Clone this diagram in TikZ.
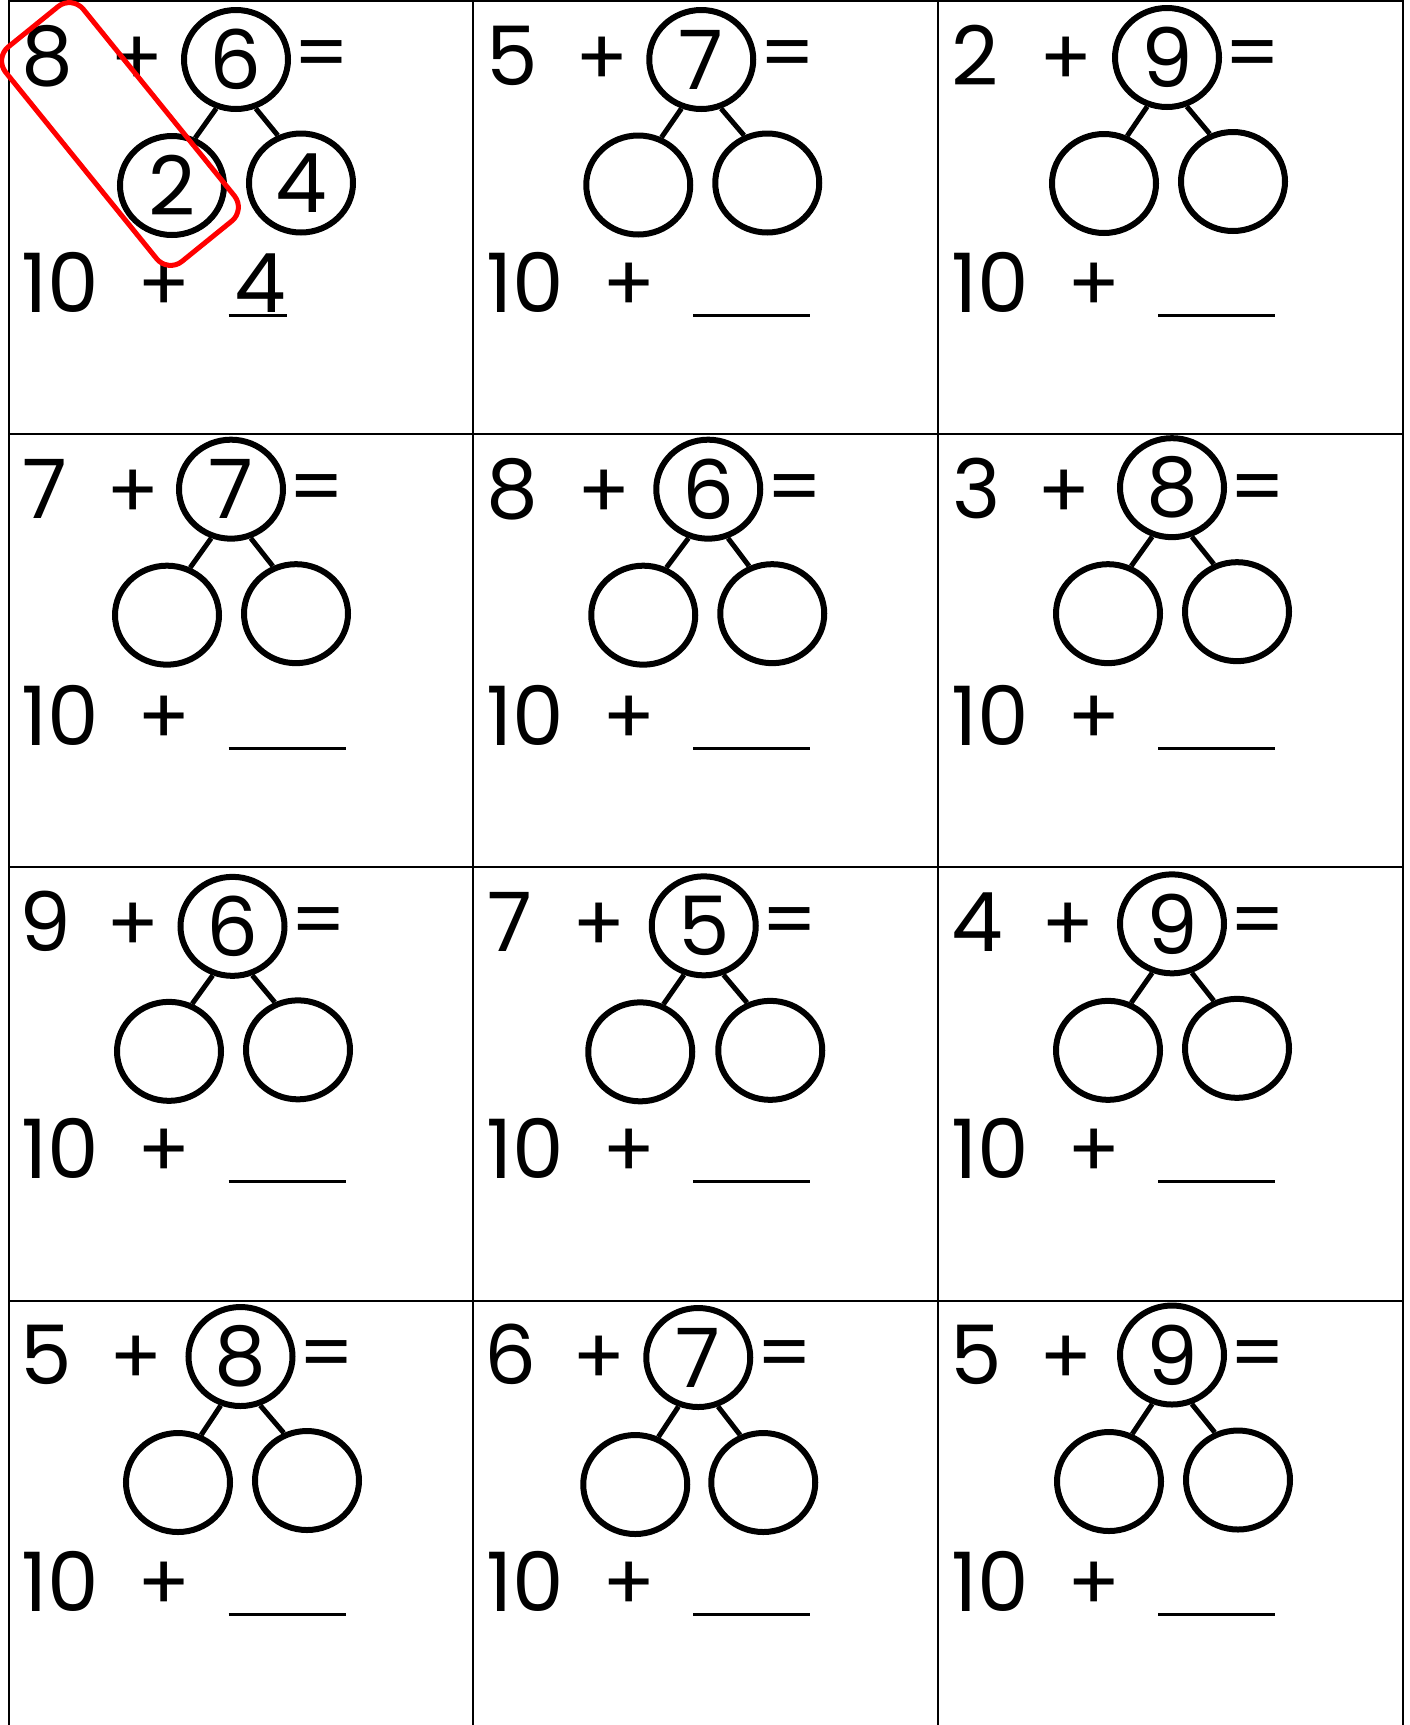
\documentclass[tikz,border=0pt]{standalone}
\usepackage{fontspec}
\setmainfont{Poppins}
\usetikzlibrary{shapes.geometric}
\begin{document}
\begin{tikzpicture}[x=1pt,y=-1pt,
  gridline/.style={line width=2pt},
  bub/.style={draw, ellipse, line width=6pt, minimum width=104pt, minimum height=99pt, inner sep=0pt, font=\fontsize{82}{90}\selectfont},
  conn/.style={line width=5pt},
  num/.style={font=\fontsize{82}{90}\selectfont, inner sep=0pt, anchor=base},
  op/.style={font=\fontsize{78}{86}\selectfont, inner sep=0pt, anchor=center},
  blankline/.style={line width=3pt},
  hilite/.style={draw=red, line width=5pt, rounded corners=18pt, minimum width=276pt, minimum height=100pt, inner sep=0pt, rotate=-51}
]
\useasboundingbox (0,0) rectangle (1410,1725);
\fill[white] (0,0) rectangle (1410,1725);
% grid
\foreach \yy in {1,433.5,867,1300.5}{\draw[gridline] (8.5,\yy) -- (1403,\yy);}
\foreach \xx in {8.5,473,938,1403}{\draw[gridline] (\xx,0) -- (\xx,1725);}
% cells
\foreach \c/\r/\a/\b/\ax/\px/\tx/\ty/\lx/\ly/\rx/\ry/\lt/\rt/\le in {
1/1/8/6/39/128.5/227.5/58.5/163.5/184.5/292.5/182/2/4/278.5,
2/1/5/7/38.5/128.5/228/58.5/165/184/294/182/{}/{}/337,
3/1/2/9/37.5/128.5/229/56.5/166/182.5/295/180.5/{}/{}/337,
1/2/7/7/36.5/125/222.5/55/158.5/181/287.5/179.5/{}/{}/337,
2/2/8/6/39/130.5/235/55/170/181/299/179.5/{}/{}/337,
3/2/3/8/38.5/126/234/53.5/170/179.5/299/177.5/{}/{}/337,
1/3/9/6/36.5/125/224/59/160.5/184/289.5/182.5/{}/{}/337,
2/3/7/5/36.5/125.5/230.5/58.5/167/184.5/297/183/{}/{}/337,
3/3/4/9/39.5/130.5/234/56.5/170/183/299/181/{}/{}/337,
1/4/5/8/38/128/232/56/169.5/182/298.5/180/{}/{}/337,
2/4/6/7/37.5/125.5/225/57/162/184/290/182/{}/{}/337,
3/4/5/9/38.5/128.5/234/54.5/171/181/300/179.5/{}/{}/337}{
  \pgfmathsetmacro\X{8.5+(\c-1)*464.75}
  \pgfmathsetmacro\Y{1+(\r-1)*433.17}
  \begin{scope}[shift={(\X,\Y)}]
    \node[num] (a\c\r) at (\ax,84) {\a};
    \node[op] (p\c\r) at (\px,60) {+};
    \node[bub] (t\c\r) at (\tx,\ty) {\b};
    \node[op] (e\c\r) at (\tx+86,60) {=};
    \node[bub] (l\c\r) at (\lx,\ly) {\lt};
    \node[bub] (r\c\r) at (\rx,\ry) {\rt};
    \draw[conn] (t\c\r.-112) -- (l\c\r.64);
    \draw[conn] (t\c\r.-68) -- (r\c\r.116);
    \node[num] (ten\c\r) at (52,311) {10};
    \node[op] (q\c\r) at (156,286) {+};
    \coordinate (bs\c\r) at (220,314);
    \coordinate (be\c\r) at (\le,314);
    \draw[blankline] (bs\c\r) -- (be\c\r);
  \end{scope}
}
\node[num] (ans) at (260,312) {4};
\node[hilite] (hl) at (120,134) {};
\end{tikzpicture}
\end{document}
